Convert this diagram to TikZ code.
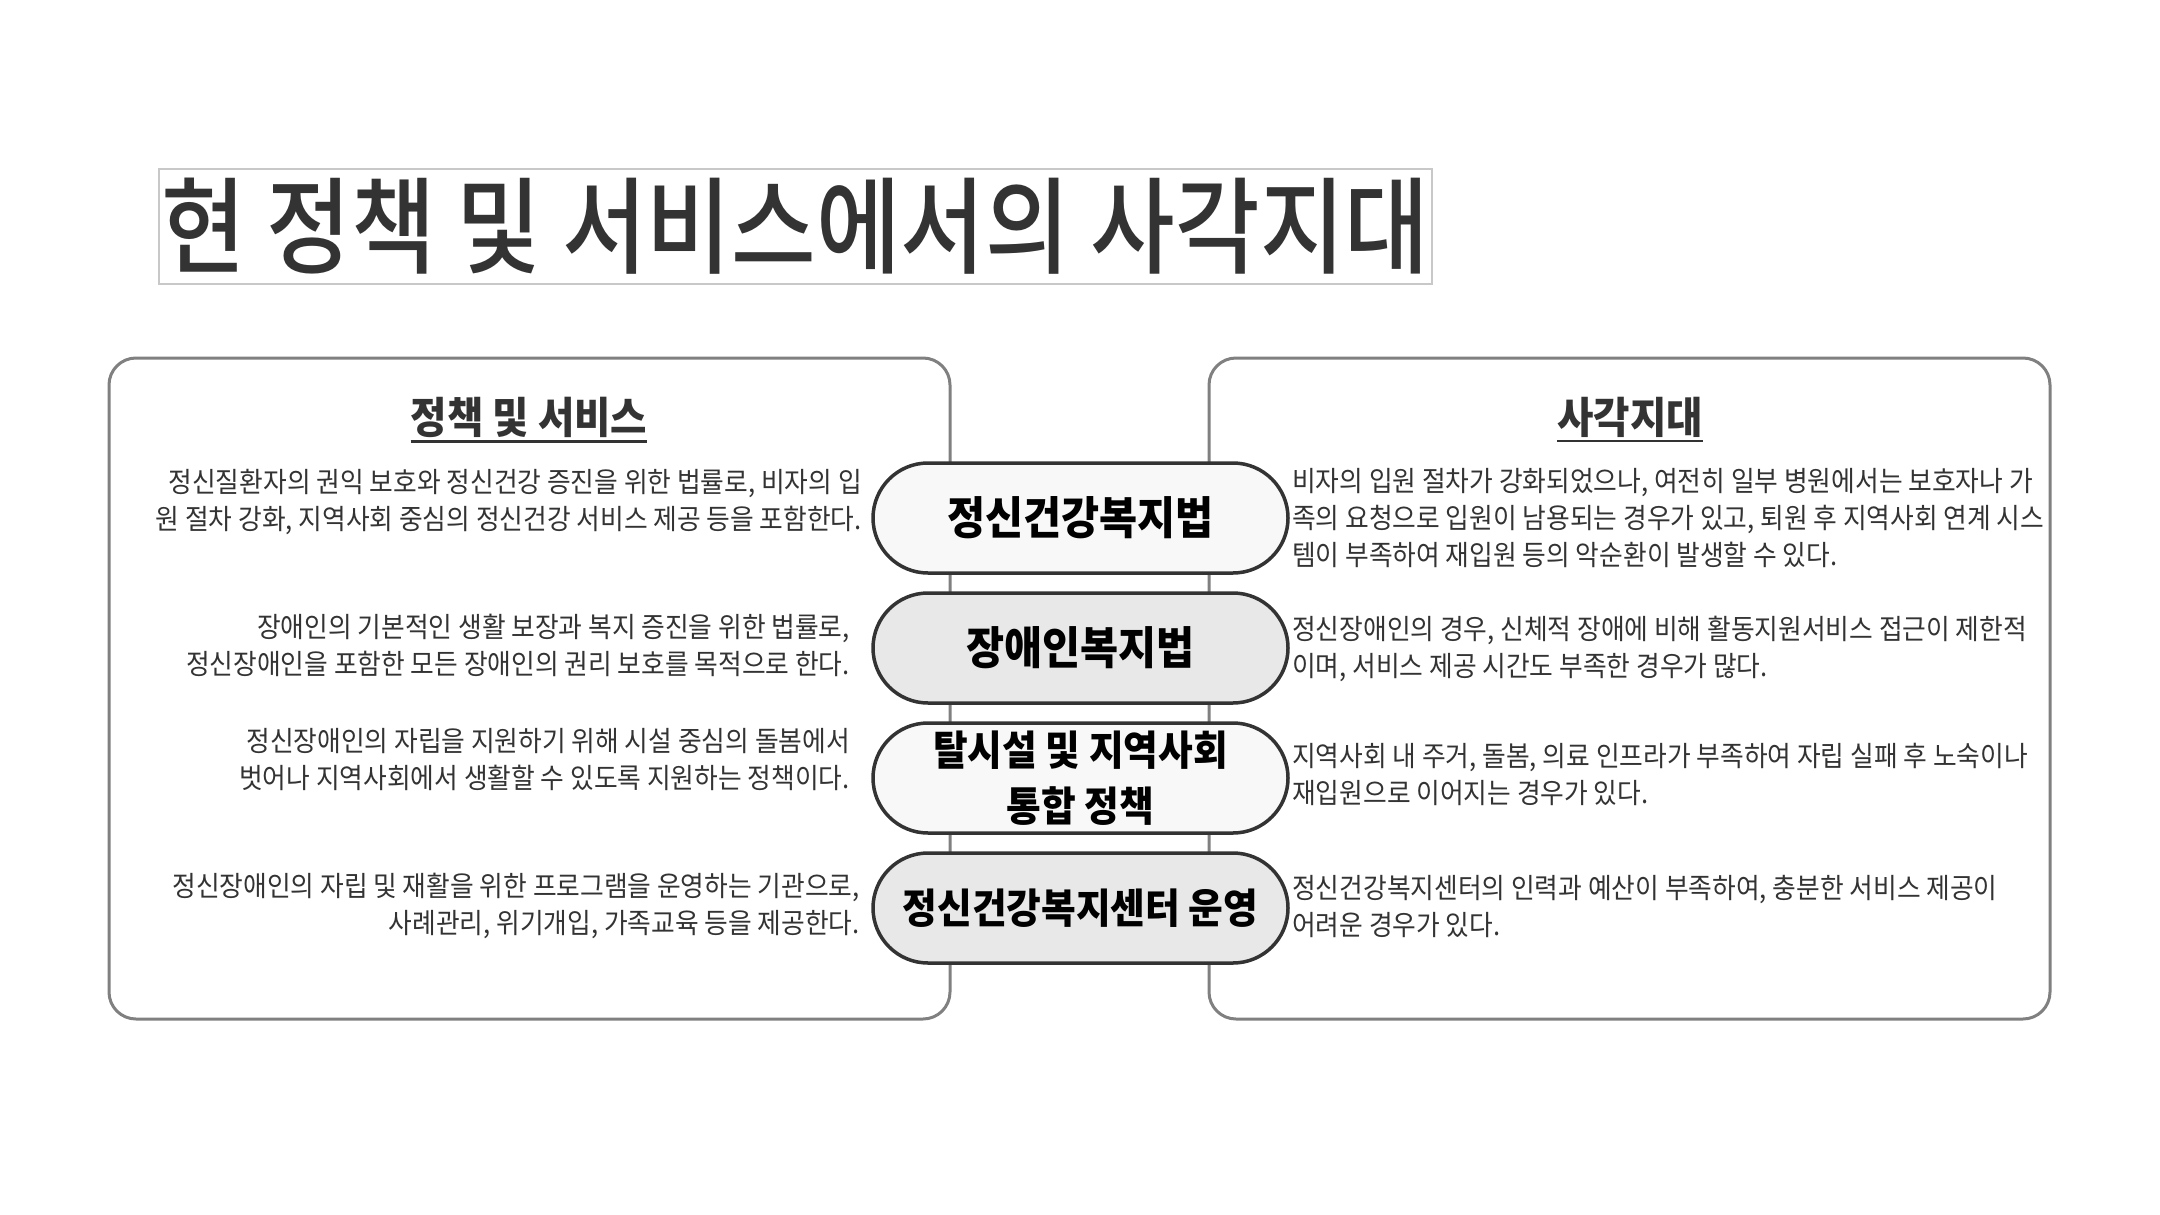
\documentclass[tikz,border=0pt]{standalone}
\usepackage{fontspec}
\setmainfont{Noto Sans CJK KR}[FakeStretch=0.92]
\IfFontExistsTF{Noto Sans CJK KR Medium}
  {\newfontfamily\titlefont{Noto Sans CJK KR Medium}[FakeStretch=0.92]}
  {\newfontfamily\titlefont{Noto Sans CJK KR}[FakeStretch=0.92,UprightFont=*,BoldFont=*]\def\titlefontextra{\bfseries}}
\providecommand\titlefontextra{}
\usetikzlibrary{positioning}
\definecolor{txt}{HTML}{333333}
\definecolor{panelline}{HTML}{808080}
\definecolor{titleline}{HTML}{C8C8C8}
\definecolor{pilllight}{HTML}{F8F8F8}
\definecolor{pilldark}{HTML}{E8E8E8}
\definecolor{pillline}{HTML}{333333}
\tikzset{
  panel/.style={draw=panelline, line width=3pt, rounded corners=27pt},
  pill/.style={draw=pillline, line width=3.5pt, rounded corners=55pt, minimum width=415pt, minimum height=110pt, inner sep=0pt, text=black, align=center},
  pillA/.style={pill, font=\fontsize{45}{52}\selectfont\bfseries},
  pillB/.style={pill, font=\fontsize{41}{56}\selectfont\bfseries},
  header/.style={inner sep=0pt, text=txt, font=\fontsize{43}{50}\selectfont\bfseries},
  ltext/.style={inner sep=0pt, text=txt, align=right, anchor=east, font=\fontsize{28}{37}\selectfont},
  rtext/.style={inner sep=0pt, text=txt, align=left, anchor=west, font=\fontsize{28}{37}\selectfont},
  titlebox/.style={draw=titleline, line width=1.5pt, minimum width=1273pt, minimum height=115pt, inner sep=0pt, text=txt}
}
\begin{document}
\begin{tikzpicture}[x=1pt,y=-1pt]
\useasboundingbox (0,0) rectangle (2160,1215);
% title
\node[titlebox] (title) at (795.5,226.5) {\scalebox{1}[1.05]{\titlefont\titlefontextra\fontsize{100}{110}\selectfont 현 정책 및 서비스에서의 사각지대}};
% panels
\draw[panel] (109,358) rectangle (950,1019);
\draw[panel] (1209,358) rectangle (2050,1019);
% headers
\node[header] (h1) at (529,417) {정책 및 서비스};
\draw[txt, line width=2.2pt] ([yshift=-4pt]h1.south west) -- ([yshift=-4pt]h1.south east);
\node[header] (h2) at (1630,417) {사각지대};
\draw[txt, line width=2.2pt] ([yshift=-4pt]h2.south west) -- ([yshift=-4pt]h2.south east);
% pills
\node[pillA, fill=pilllight] (p1) at (1080.5,518) {정신건강복지법};
\node[pillA, fill=pilldark] (p2) at (1080.5,648) {장애인복지법};
\node[pillB, fill=pilllight] (p3) at (1080.5,778) {탈시설 및 지역사회\\통합 정책};
\node[pillB, fill=pilldark] (p4) at (1080.5,908) {정신건강복지센터 운영};
% left texts
\node[ltext] (l1) at (862,502) {정신질환자의 권익 보호와 정신건강 증진을 위한 법률로, 비자의 입\\원 절차 강화, 지역사회 중심의 정신건강 서비스 제공 등을 포함한다.};
\node[ltext] (l2) at (850,645) {장애인의 기본적인 생활 보장과 복지 증진을 위한 법률로,\\정신장애인을 포함한 모든 장애인의 권리 보호를 목적으로 한다.};
\node[ltext] (l3) at (850,760) {정신장애인의 자립을 지원하기 위해 시설 중심의 돌봄에서\ \\벗어나 지역사회에서 생활할 수 있도록 지원하는 정책이다.};
\node[ltext] (l4) at (860,906) {정신장애인의 자립 및 재활을 위한 프로그램을 운영하는 기관으로,\\사례관리, 위기개입, 가족교육 등을 제공한다.};
% right texts
\node[rtext] (r1) at (1292,518) {비자의 입원 절차가 강화되었으나, 여전히 일부 병원에서는 보호자나 가\\족의 요청으로 입원이 남용되는 경우가 있고, 퇴원 후 지역사회 연계 시스\\템이 부족하여 재입원 등의 악순환이 발생할 수 있다.};
\node[rtext] (r2) at (1292,649) {정신장애인의 경우, 신체적 장애에 비해 활동지원서비스 접근이 제한적\\이며, 서비스 제공 시간도 부족한 경우가 많다.};
\node[rtext] (r3) at (1292,774) {지역사회 내 주거, 돌봄, 의료 인프라가 부족하여 자립 실패 후 노숙이나\\재입원으로 이어지는 경우가 있다.};
\node[rtext] (r4) at (1292,906) {정신건강복지센터의 인력과 예산이 부족하여, 충분한 서비스 제공이\\어려운 경우가 있다.};
\end{tikzpicture}
\end{document}
